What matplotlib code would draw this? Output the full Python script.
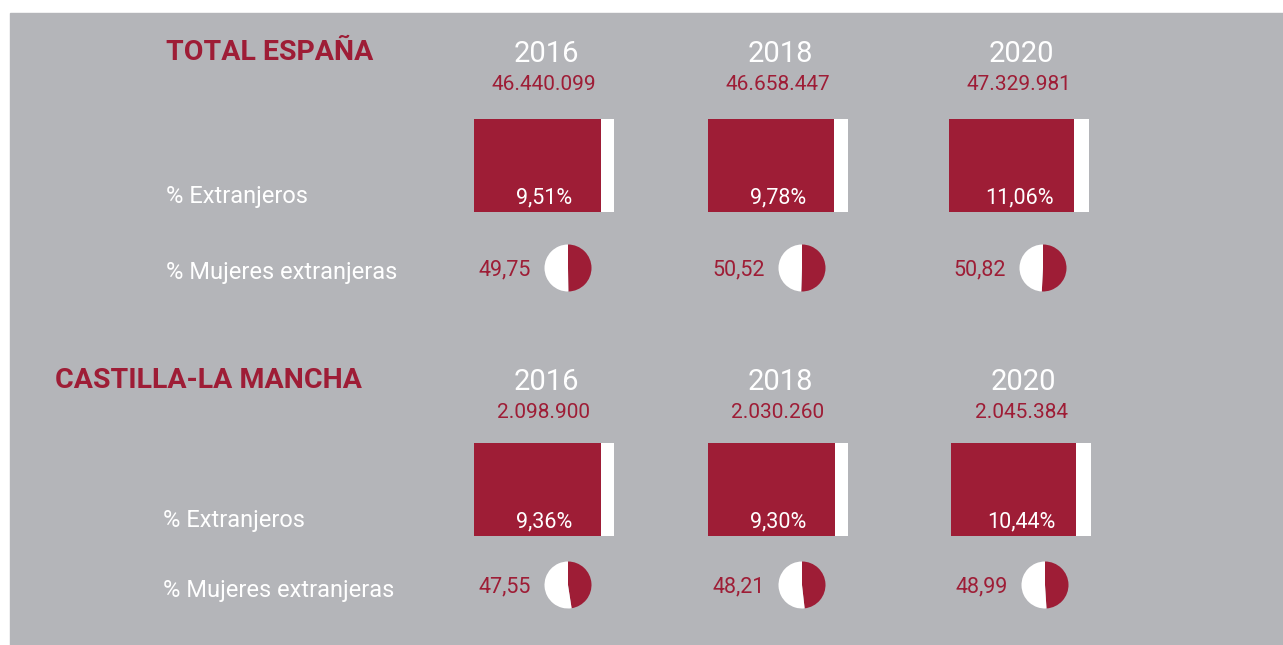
import matplotlib
matplotlib.use("Agg")
import matplotlib.pyplot as plt

# data
years = ["2016", "2018", "2020"]
regions = ["TOTAL ESPAÑA", "CASTILLA-LA MANCHA"]
population = [["46.440.099", "46.658.447", "47.329.981"],
              ["2.098.900", "2.030.260", "2.045.384"]]
pct_foreign = [[9.51, 9.78, 11.06],
               [9.36, 9.30, 10.44]]
pct_women = [[49.75, 50.52, 50.82],
             [47.55, 48.21, 48.99]]

RED = "#9e1d36"
GREY = "#b4b5b9"
NARROW = ["Liberation Sans Narrow", "DejaVu Sans Condensed", "Roboto"]
NUM = ["Roboto", "DejaVu Sans"]

fig = plt.figure(figsize=(12.83, 6.45), dpi=100)
ax = fig.add_axes([0, 0, 1, 1])

def fmt(v):
    return f"{v:.2f}".replace(".", ",")

# layout in pixel coords (y grows downward)
col_x = [[474, 708, 949], [474, 708, 951]]
title_x = [166, 55]
label_x = [166, 163]
top_y = [52, 380]       # year row
bar_bottom = [212, 536]
pie_y = [268, 585]
bar_w = 140
bar_h = 93
pie_r = 23.5

for r, name in enumerate(regions):
    y0 = top_y[r]
    ax.text(title_x[r], y0 + 1, name, color=RED, fontsize=20.5, fontweight="bold",
            family=NARROW, ha="left", va="center")
    ax.text(label_x[r], bar_bottom[r] - 16, "% Extranjeros", color="white",
            fontsize=17, family=NARROW, ha="left", va="center")
    ax.text(label_x[r], pie_y[r] + 5, "% Mujeres extranjeras", color="white",
            fontsize=17, family=NARROW, ha="left", va="center")
    for i, yr in enumerate(years):
        x = col_x[r][i]
        cx = x + bar_w / 2
        ax.text(cx + 2, y0 + 2, yr, color="white", fontsize=21, family=NARROW,
                ha="center", va="center")
        ax.text(cx, y0 + 33, population[r][i], color=RED, fontsize=15,
                family=NARROW, ha="center", va="center")
        p = pct_foreign[r][i]
        red_w = bar_w * (100 - p) / 100
        white_w = bar_w * p / 100
        yc = bar_bottom[r] - bar_h / 2
        ax.barh(yc, red_w, height=bar_h, left=x, color=RED, linewidth=0)
        ax.barh(yc, white_w, height=bar_h, left=x + red_w, color="white",
                linewidth=0)
        ax.text(cx, bar_bottom[r] - 14, fmt(p) + "%", color="white",
                fontsize=15.5, family=NUM, ha="center", va="center")
        w = pct_women[r][i]
        px = x + 94
        # y axis is inverted: startangle -90 is visual top, ccw in data = clockwise on screen
        ax.pie([w, 100 - w], colors=[RED, "white"], radius=pie_r,
               center=(px, pie_y[r]), startangle=-90, counterclock=True,
               wedgeprops=dict(linewidth=0))
        ax.text(x + 57, pie_y[r] + 2, fmt(w), color=RED, fontsize=15.5,
                family=NUM, ha="right", va="center")

ax.set_xlim(0, 1283)
ax.set_ylim(645, 0)
ax.set_aspect("equal")
ax.axis("off")
ax.add_patch(plt.Rectangle((10, 13), 1273, 640, color=GREY, zorder=-10))
fig.patch.set_facecolor("white")
fig.savefig("out.png", dpi=100)
